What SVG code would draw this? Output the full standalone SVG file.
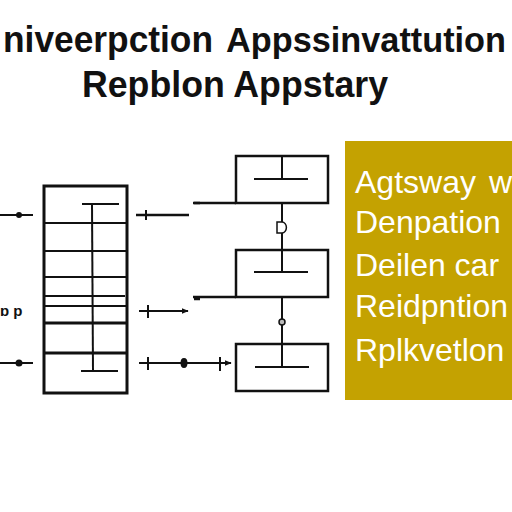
<svg xmlns="http://www.w3.org/2000/svg" width="512" height="512" viewBox="0 0 512 512">
<style>
.t{font-family:"Liberation Sans",Arial,sans-serif;font-weight:bold;fill:#111}
.p{font-family:"Liberation Sans",Arial,sans-serif;fill:#fff;font-size:32px}
.k{stroke:#111;fill:none;stroke-linecap:butt}
.box{stroke:#111;stroke-width:2.5;fill:#fff}
</style>
<defs>
<marker id="ah" viewBox="0 0 10 10" refX="9" refY="5" markerWidth="7" markerHeight="7" orient="auto" markerUnits="userSpaceOnUse">
<path d="M0,1 L10,5 L0,9 z" fill="#111"/>
</marker>
</defs>
<rect width="512" height="512" fill="#fff"/>
<text class="t" x="3" y="52" font-size="36" textLength="210" lengthAdjust="spacingAndGlyphs">niveerpction</text>
<text class="t" x="226" y="52" font-size="35" textLength="280" lengthAdjust="spacingAndGlyphs">Appssinvattution</text>
<text class="t" x="82" y="97" font-size="37" textLength="306" lengthAdjust="spacingAndGlyphs">Repblon Appstary</text>

<g id="stack">
<rect x="44" y="186" width="83" height="207" fill="#fff" stroke="#111" stroke-width="3"/>
<g class="k" stroke-width="2">
<line x1="44" y1="223" x2="127" y2="223"/>
<line x1="44" y1="251" x2="127" y2="251"/>
<line x1="44" y1="277" x2="127" y2="277"/>
<line x1="44" y1="296" x2="125" y2="296"/>
<line x1="44" y1="306" x2="127" y2="306"/>
<line x1="44" y1="323" x2="127" y2="323" stroke-width="3"/>
<line x1="44" y1="353" x2="127" y2="353" stroke-width="3"/>
<line x1="92" y1="204" x2="93" y2="371"/>
<line x1="82" y1="204" x2="119" y2="204"/>
<line x1="81" y1="371" x2="118" y2="371"/>
</g>
</g>

<g id="box1">
<rect class="box" x="236" y="156" width="92" height="47"/>
<line class="k" stroke-width="2" x1="282" y1="156" x2="282" y2="179"/>
<line class="k" stroke-width="2" x1="254" y1="179" x2="308" y2="179"/>
</g>
<g id="box2">
<rect class="box" x="236" y="250" width="92" height="47"/>
<line class="k" stroke-width="2" x1="282" y1="250" x2="282" y2="272"/>
<line class="k" stroke-width="2" x1="254" y1="272" x2="308" y2="272"/>
</g>
<g id="box3">
<rect class="box" x="236" y="344" width="92" height="47"/>
<line class="k" stroke-width="2" x1="282" y1="344" x2="282" y2="367"/>
<line class="k" stroke-width="2" x1="255" y1="367" x2="309" y2="367"/>
</g>

<g id="panel">
<rect x="345" y="141" width="170" height="259" fill="#c4a201"/>
<text class="p" x="355" y="193">Agtsway<tspan x="489">w</tspan></text>
<text class="p" x="355" y="233">Denpation</text>
<text class="p" x="355" y="276">Deilen car</text>
<text class="p" x="355" y="317">Reidpntion</text>
<text class="p" x="355" y="361">Rplkvetlon</text>
</g>

<g id="connectors" class="k" stroke-width="2">
<line x1="0" y1="215" x2="33" y2="215"/>
<circle cx="19" cy="215" r="2" fill="#111"/>
<line x1="136" y1="215" x2="189" y2="215" stroke-width="2.5"/>
<line x1="146" y1="210" x2="146" y2="220"/>
<line x1="194" y1="203" x2="200" y2="203" stroke-width="2.5"/>
<line x1="194" y1="299" x2="200" y2="299" stroke-width="2.5"/>
<line x1="193" y1="203" x2="236" y2="203" stroke-width="2.5"/>
<line x1="193" y1="297" x2="236" y2="297" stroke-width="2.5"/>
<line x1="139" y1="311" x2="188" y2="311" marker-end="url(#ah)"/>
<line x1="148" y1="305" x2="148" y2="318"/>
<line x1="0" y1="363" x2="33" y2="363"/>
<circle cx="19" cy="363" r="2.5" fill="#111"/>
<line x1="139" y1="363" x2="231" y2="363" marker-end="url(#ah)"/>
<line x1="148" y1="357" x2="148" y2="370"/>
<ellipse cx="184" cy="363" rx="2.5" ry="4" fill="#111"/>
<line x1="220" y1="357" x2="220" y2="371"/>
<line x1="282" y1="203" x2="282" y2="250"/>
<path d="M277,222 h5 a4,5 0 0 1 0,11 h-5 z" fill="#fff" stroke-width="1.5"/>
<line x1="282" y1="297" x2="282" y2="344"/>
<circle cx="282" cy="322" r="3" fill="#bbb" stroke-width="1.5"/>
</g>
<text x="0" y="316" font-family="Liberation Sans,Arial,sans-serif" font-weight="bold" font-size="15" fill="#111">ɒ p</text>
</svg>
